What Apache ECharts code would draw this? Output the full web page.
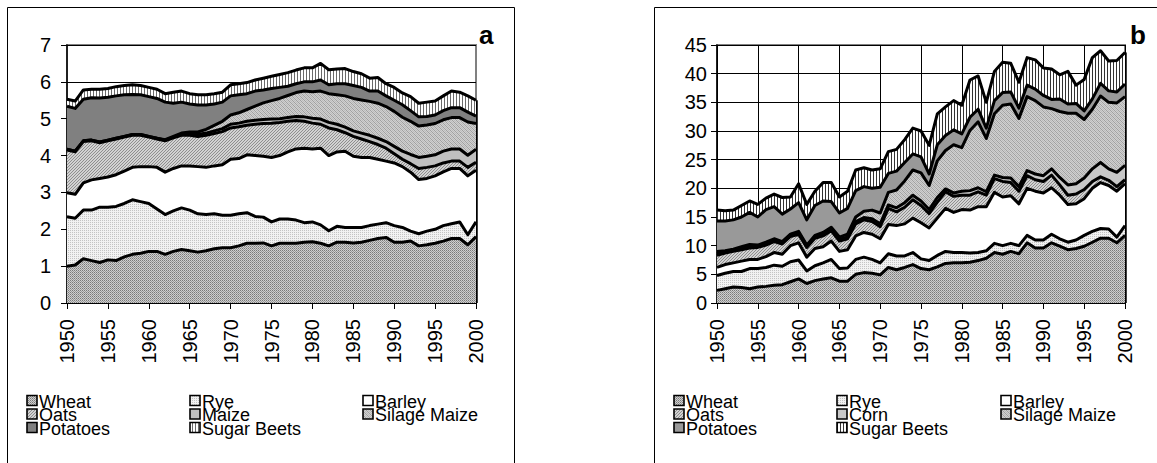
<!DOCTYPE html>
<html><head><meta charset="utf-8">
<script src="https://cdn.jsdelivr.net/npm/echarts@6/dist/echarts.min.js"></script>
<style>html,body{margin:0;padding:0;background:#fff}#c{width:1157px;height:463px}</style>
</head><body><div id="c"></div><script>
const years = ['1950','1951','1952','1953','1954','1955','1956','1957','1958','1959','1960','1961','1962','1963','1964','1965','1966','1967','1968','1969','1970','1971','1972','1973','1974','1975','1976','1977','1978','1979','1980','1981','1982','1983','1984','1985','1986','1987','1988','1989','1990','1991','1992','1993','1994','1995','1996','1997','1998','1999','2000'];
const namesA = ['Wheat','Rye','Barley','Oats','Maize','Silage Maize','Potatoes','Sugar Beets'];
const namesB = ['Wheat','Rye','Barley','Oats','Corn','Silage Maize','Potatoes','Sugar Beets'];

// Panel a
const aWheat = [1.00,1.03,1.20,1.15,1.10,1.17,1.15,1.25,1.32,1.35, 1.40,1.40,1.32,1.40,1.45,1.42,1.38,1.42,1.47,1.50, 1.50,1.55,1.62,1.62,1.63,1.55,1.62,1.62,1.62,1.65, 1.66,1.62,1.55,1.65,1.65,1.63,1.65,1.70,1.75,1.78, 1.65,1.65,1.68,1.55,1.58,1.62,1.68,1.75,1.75,1.58, 1.80];
const aRye = [1.34,1.27,1.32,1.37,1.50,1.43,1.47,1.45,1.48,1.40, 1.30,1.15,1.08,1.10,1.13,1.10,1.04,0.98,0.95,0.88, 0.88,0.87,0.83,0.73,0.70,0.65,0.66,0.66,0.63,0.53, 0.54,0.50,0.41,0.43,0.40,0.42,0.40,0.40,0.39,0.40, 0.45,0.40,0.27,0.33,0.37,0.38,0.42,0.40,0.45,0.27, 0.40];
const aBarley = [0.65,0.65,0.74,0.82,0.78,0.82,0.86,0.88,0.88,0.95, 1.00,1.13,1.15,1.15,1.14,1.20,1.28,1.28,1.30,1.37, 1.52,1.50,1.57,1.65,1.65,1.75,1.72,1.82,1.93,2.02, 1.98,2.08,2.04,2.02,2.07,1.93,1.90,1.85,1.76,1.67, 1.70,1.65,1.60,1.47,1.43,1.45,1.46,1.50,1.45,1.60, 1.40];
const aOats = [1.16,1.15,1.12,1.06,0.97,0.98,0.97,0.92,0.87,0.85, 0.80,0.77,0.85,0.83,0.83,0.83,0.82,0.87,0.88,0.90, 0.85,0.86,0.80,0.85,0.89,0.93,0.90,0.83,0.77,0.73, 0.70,0.65,0.75,0.60,0.50,0.54,0.50,0.43,0.40,0.35, 0.25,0.20,0.23,0.30,0.30,0.27,0.24,0.20,0.20,0.23, 0.22];
const aMaize = [0.02,0.02,0.02,0.02,0.02,0.02,0.02,0.02,0.02,0.02, 0.02,0.02,0.02,0.02,0.03,0.04,0.05,0.06,0.07,0.08, 0.10,0.10,0.11,0.11,0.11,0.11,0.10,0.10,0.11,0.12, 0.13,0.14,0.15,0.15,0.15,0.15,0.16,0.17,0.17,0.18, 0.20,0.22,0.25,0.30,0.30,0.30,0.32,0.33,0.33,0.33, 0.35];
const aSilage = [0,0,0,0,0,0,0,0,0,0, 0,0,0.01,0.02,0.03,0.05,0.07,0.10,0.15,0.20, 0.25,0.28,0.32,0.38,0.45,0.50,0.55,0.60,0.65,0.70, 0.72,0.76,0.78,0.80,0.85,0.88,0.90,0.92,0.95,0.95, 0.95,0.92,0.90,0.85,0.85,0.85,0.85,0.85,0.85,0.90, 0.70];
const aPotatoes = [1.17,1.16,1.13,1.15,1.19,1.16,1.15,1.13,1.09,1.08, 1.08,1.08,1.02,0.90,0.84,0.76,0.73,0.66,0.58,0.52, 0.52,0.49,0.43,0.41,0.35,0.33,0.30,0.25,0.24,0.25, 0.27,0.30,0.24,0.30,0.33,0.35,0.34,0.28,0.33,0.29, 0.30,0.34,0.29,0.25,0.23,0.23,0.25,0.27,0.27,0.27, 0.20];
const aSugar = [0.19,0.20,0.25,0.23,0.24,0.24,0.25,0.25,0.26,0.25, 0.25,0.25,0.23,0.30,0.30,0.28,0.28,0.28,0.28,0.27, 0.30,0.30,0.30,0.30,0.32,0.33,0.35,0.37,0.37,0.38, 0.38,0.45,0.41,0.40,0.41,0.38,0.37,0.35,0.37,0.33, 0.35,0.32,0.38,0.37,0.39,0.38,0.40,0.45,0.42,0.44, 0.43];

// Panel b
const bWheat = [2.2,2.5,2.8,2.7,2.5,2.8,2.9,3.1,3.2,3.7, 4.2,3.4,3.9,4.2,4.4,3.8,3.8,5.0,5.3,5.2, 4.9,6.2,5.8,6.2,6.7,6.0,5.8,6.3,6.9,7.0, 7.0,7.1,7.4,7.8,8.8,8.5,9.0,8.6,10.5,9.6, 9.6,10.5,9.9,9.3,9.5,9.9,10.6,11.3,11.3,10.5, 11.8];
const bRye = [2.6,2.7,2.7,2.8,3.5,3.2,3.3,3.5,3.2,3.5, 3.3,2.2,2.6,2.8,3.2,2.2,2.3,2.6,2.7,2.4, 2.1,2.4,2.4,2.0,2.1,1.7,1.6,2.0,2.1,1.8, 1.8,1.6,1.4,1.3,1.6,1.5,1.4,1.4,1.3,1.4, 1.4,1.5,1.3,1.3,1.5,1.9,1.9,1.7,1.6,1.0, 1.7];
const bBarley = [1.4,1.5,1.5,1.8,1.6,1.6,1.9,2.2,2.1,2.8, 3.0,2.4,3.0,2.8,3.2,3.0,3.2,4.1,4.3,4.4, 4.2,5.1,5.3,5.6,6.0,6.3,5.7,6.5,7.5,7.0, 7.5,7.5,8.0,7.7,8.9,8.5,8.3,7.3,8.2,8.5, 8.2,8.1,7.6,6.6,6.3,6.4,7.5,8.0,7.6,8.0, 7.3];
const bOats = [2.1,2.0,2.0,2.0,2.0,2.1,2.0,1.9,1.8,1.6, 1.5,1.7,1.8,1.9,1.8,1.8,1.9,2.1,2.2,2.2, 2.1,2.8,2.4,2.9,3.2,3.0,2.5,2.8,2.9,2.8, 2.5,2.6,2.6,2.0,2.4,2.7,2.3,2.2,2.2,2.0, 2.0,2.2,1.8,1.6,1.7,1.6,1.2,1.0,0.9,0.8, 0.7];
const bCorn = [0.3,0.3,0.3,0.3,0.3,0.3,0.3,0.3,0.3,0.3, 0.3,0.3,0.3,0.3,0.3,0.3,0.3,0.4,0.4,0.5, 0.5,0.6,0.7,0.8,0.8,0.8,0.7,0.8,0.5,0.6, 0.7,0.8,0.7,0.6,0.6,0.7,0.8,0.8,0.9,1.0, 1.0,1.1,1.3,1.8,1.8,2.0,2.2,2.5,2.0,2.5, 2.5];
const bSilage = [0.4,0.1,0.1,0.2,0.3,0.1,0.2,0.2,0.1,0.1, 0.2,0.1,0.2,0.3,0.3,0.4,0.5,0.8,1.1,1.5, 1.9,2.2,3.1,3.8,4.4,4.9,4.2,6.4,6.7,8.4, 7.6,10.5,11.5,9.3,10.7,12.6,12.9,11.9,12.9,12.8, 12.0,10.5,11.5,12.5,12.3,10.2,10.4,11.6,11.6,12.1, 12.0];
const bPotatoes = [5.3,5.2,5.1,5.2,5.6,4.9,5.7,5.6,4.8,4.4, 5.0,4.4,5.2,5.5,4.5,4.2,4.5,4.6,4.3,3.8, 4.5,3.3,3.3,3.2,2.8,2.8,2.0,2.8,2.6,2.6, 2.4,2.3,2.2,1.8,2.3,2.2,2.1,1.8,2.0,2.0, 2.0,1.6,2.2,1.6,1.7,1.5,1.8,2.2,2.0,1.9, 2.2];
const bSugar = [1.9,1.8,1.7,2.0,2.0,2.2,2.0,2.2,2.9,2.1, 3.3,2.7,2.5,3.2,3.3,2.8,3.0,3.6,3.3,3.2, 3.2,3.8,3.8,4.0,4.5,4.5,5.0,5.4,5.0,5.1, 5.0,6.5,5.8,4.5,5.1,5.3,5.0,4.5,4.8,5.1, 4.8,5.3,4.2,5.7,3.2,5.5,7.2,5.7,5.2,5.5, 5.5];

const FONT = 'Liberation Sans';

function pat(w, h, fn) {
  const c = document.createElement('canvas'); c.width = w; c.height = h;
  const g = c.getContext('2d'); fn(g, w, h);
  return { image: c.toDataURL(), repeat: 'repeat' };
}
function px(g, x, y, col) { g.fillStyle = col; g.fillRect(x, y, 1, 1); }
const fillWheat = pat(2, 2, g => { g.fillStyle = '#cfcfcf'; g.fillRect(0,0,2,2); px(g,0,0,'#7a7a7a'); px(g,1,1,'#9a9a9a'); });
const fillRye = pat(2, 2, g => { g.fillStyle = '#f2f2f2'; g.fillRect(0,0,2,2); px(g,0,0,'#c4c4c4'); });
const fillBarley = '#ffffff';
const fillOats = pat(3, 3, g => { g.fillStyle = '#d2d2d2'; g.fillRect(0,0,3,3); for (let i=0;i<3;i++) px(g,i,(3-i)%3,'#8e8e8e'); });
const fillMaize = '#c0c0c0';
const fillSilage = pat(4, 4, g => { g.fillStyle = '#d0d0d0'; g.fillRect(0,0,4,4); for (let i=0;i<4;i++) { px(g,i,i,'#a0a0a0'); px(g,(i+2)%4,i,'#bababa'); } });
const fillPotA = '#808080';
const fillPotB = '#999999';
const fillSugarA = pat(3, 1, g => { g.fillStyle = '#ffffff'; g.fillRect(0,0,3,1); px(g,0,0,'#6a6a6a'); });
const fillSugarB = pat(3, 1, g => { g.fillStyle = '#ffffff'; g.fillRect(0,0,3,1); px(g,0,0,'#333333'); });

const fillsA = [fillWheat, fillRye, fillBarley, fillOats, fillMaize, fillSilage, fillPotA, fillSugarA];
const fillsB = [fillWheat, fillRye, fillBarley, fillOats, '#c8c8c8', fillSilage, fillPotB, fillSugarB];

function mkSeries(idx, names, arrays, fills) {
  const last = years.length - 1;
  const total = arrays.reduce((s, d) => s + d[last], 0);
  return arrays.map((d, i) => {
    const s = {
      type: 'line', name: names[i] + (idx ? ' (b)' : ' (a)'),
      xAxisIndex: idx, yAxisIndex: idx, stack: 'S' + idx, data: d,
      symbol: 'none', showSymbol: false,
      lineStyle: { color: '#000', width: 3, join: 'round' },
      areaStyle: { color: fills[i], opacity: 1 },
      z: 20 - i, silent: true, animation: false
    };
    if (i === arrays.length - 1) {
      // outline of the stacked areas along the right edge
      s.markLine = { silent: true, symbol: 'none', label: { show: false }, animation: false,
        lineStyle: { color: '#000', width: 2.5, type: 'solid' },
        data: [[{ coord: [years[last], 0] }, { coord: [years[last], total] }]] };
    }
    return s;
  });
}

const seriesA = mkSeries(0, namesA, [aWheat, aRye, aBarley, aOats, aMaize, aSilage, aPotatoes, aSugar], fillsA);
const seriesB = mkSeries(1, namesB, [bWheat, bRye, bBarley, bOats, bCorn, bSilage, bPotatoes, bSugar], fillsB);

function xAx(idx, grid) {
  return {
    type: 'category', gridIndex: idx, data: years, boundaryGap: false,
    axisLine: { lineStyle: { color: '#000', width: 1.5 } },
    axisTick: { interval: 4, length: 6, lineStyle: { color: '#000', width: 1 } },
    axisLabel: { interval: 4, rotate: 90, fontSize: 20, fontFamily: FONT, color: '#000', margin: 16 },
    splitLine: { show: grid, interval: 4, lineStyle: { color: '#000', width: 1 } }
  };
}
function yAx(idx, max, step, margin) {
  return {
    type: 'value', gridIndex: idx, min: 0, max: max, interval: step,
    axisLine: { show: true, lineStyle: { color: '#000', width: 1.5 } },
    axisTick: { show: true, length: 6, lineStyle: { color: '#000' } },
    axisLabel: { fontSize: 20, fontFamily: FONT, color: '#000', margin: margin },
    splitLine: { show: true, lineStyle: { color: '#000', width: 1 } }
  };
}

const graphics = [];
graphics.push({ type: 'rect', shape: { x: 7.5, y: 7.5, width: 507, height: 480 }, style: { fill: 'none', stroke: '#000', lineWidth: 1 }, silent: true });
graphics.push({ type: 'rect', shape: { x: 654.5, y: 7.5, width: 520, height: 480 }, style: { fill: 'none', stroke: '#000', lineWidth: 1 }, silent: true });
graphics.push({ type: 'text', x: 479, y: 48, style: { text: 'a', fontSize: 26, fontWeight: 'bold', fontFamily: FONT, fill: '#000', textVerticalAlign: 'bottom' }, silent: true });
graphics.push({ type: 'text', x: 1130, y: 48, style: { text: 'b', fontSize: 26, fontWeight: 'bold', fontFamily: FONT, fill: '#000', textVerticalAlign: 'bottom' }, silent: true });

function legend(names, fills, cols) {
  const rows = [400.5, 414, 427.5];
  names.forEach((n, i) => {
    const cx = cols[i % 3], cy = rows[Math.floor(i / 3)];
    graphics.push({ type: 'rect', shape: { x: cx, y: cy - 5, width: 10, height: 10 }, style: { fill: fills[i], stroke: '#000', lineWidth: 1.6 }, silent: true });
    graphics.push({ type: 'text', x: cx + 12, y: cy + 1, style: { text: n, fontSize: 18, fontFamily: FONT, fill: '#000', textVerticalAlign: 'middle' }, silent: true });
  });
}
legend(namesA, fillsA, [27, 190, 363]);
legend(namesB, fillsB, [674, 837, 1001]);

const chart = echarts.init(document.getElementById('c'), null, { renderer: 'svg' });
chart.setOption({
  animation: false,
  backgroundColor: '#fff',
  textStyle: { fontFamily: FONT },
  grid: [
    { left: 67, top: 45, width: 409, height: 258, show: true, borderColor: '#808080', borderWidth: 2, backgroundColor: 'transparent' },
    { left: 717, top: 45, width: 408, height: 258, show: true, borderColor: '#808080', borderWidth: 2, backgroundColor: 'transparent' }
  ],
  xAxis: [xAx(0, false), xAx(1, true)],
  yAxis: [yAx(0, 7, 1, 16), yAx(1, 45, 5, 10)],
  series: seriesA.concat(seriesB),
  graphic: graphics
});
</script></body></html>
